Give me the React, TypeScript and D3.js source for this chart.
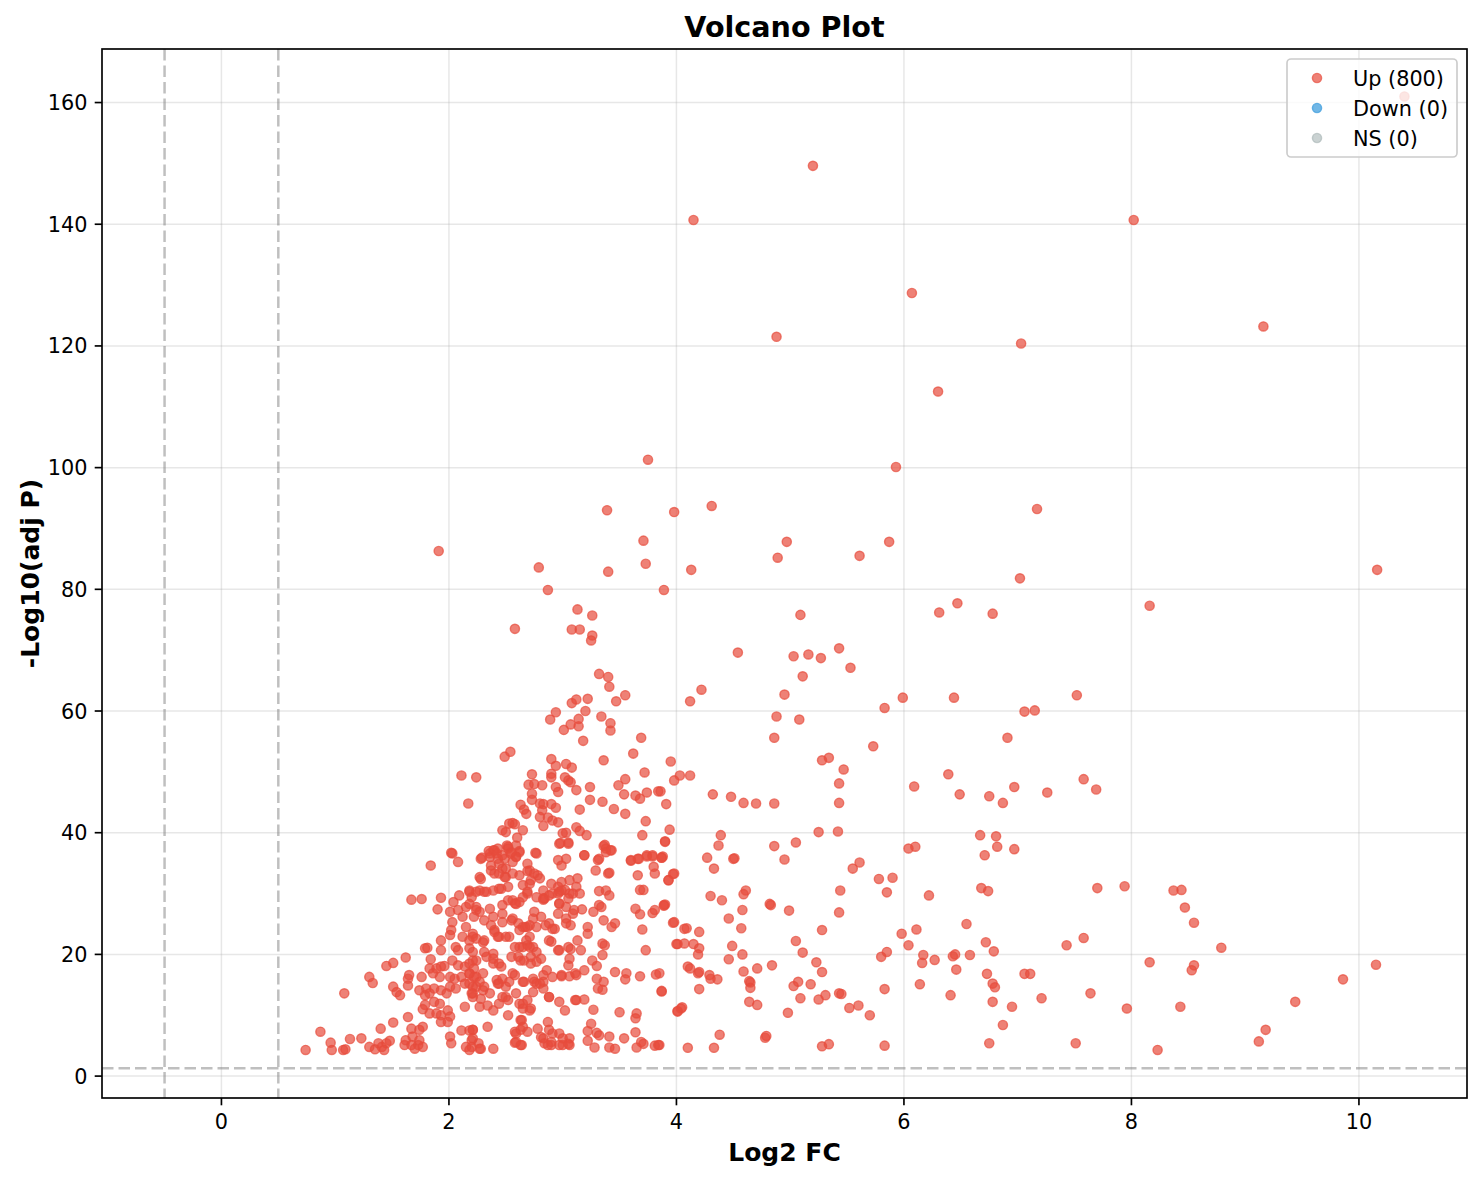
import * as d3 from "d3";

// Log2 FC / -log10(adj p) pairs, grouped by region
const outliers: [number, number][] = [
  [10.4, 161], [5.2, 149.6], [4.15, 140.7], [8.02, 140.7], [6.07, 128.7], [4.88, 121.5], [9.16, 123.2],
  [7.03, 120.4], [6.3, 112.5], [3.75, 101.3], [5.93, 100.1], [3.39, 93.0], [3.98, 92.7], [4.31, 93.7],
  [7.17, 93.2], [1.91, 86.3], [3.71, 88.0], [4.97, 87.8], [5.87, 87.8], [2.79, 83.6], [3.4, 82.9],
  [3.73, 84.2], [4.13, 83.2], [4.89, 85.2], [5.61, 85.5], [2.87, 79.9], [3.89, 79.9], [7.02, 81.8],
  [3.13, 76.7], [3.26, 75.7], [2.58, 73.5], [3.08, 73.4], [3.15, 73.4], [3.26, 72.4], [5.09, 75.8],
  [6.31, 76.2], [6.47, 77.7], [6.78, 76.0], [8.16, 77.3], [10.16, 83.2],
];

const rightTail: [number, number][] = [
  [5.99, 62.2], [6.44, 62.2], [7.52, 62.6], [7.06, 59.9], [7.15, 60.1], [6.91, 55.6], [6.39, 49.6],
  [6.09, 47.6], [6.49, 46.3], [6.75, 46.0], [6.87, 44.9], [6.97, 47.5], [7.26, 46.6], [7.58, 48.8],
  [7.69, 47.1], [6.67, 39.6], [6.81, 39.4], [6.82, 37.7], [6.71, 36.3], [6.97, 37.3], [6.04, 37.4],
  [6.1, 37.7], [6.22, 29.7], [6.68, 30.9], [6.74, 30.4], [7.7, 30.9], [7.94, 31.2], [6.55, 25.0],
  [5.98, 23.4], [6.11, 24.1], [6.04, 21.5], [6.72, 22.0], [6.79, 20.5], [7.43, 21.5], [7.58, 22.7],
  [6.17, 19.9], [6.16, 18.6], [6.27, 19.1], [6.43, 19.7], [6.45, 20.0], [6.58, 19.9], [6.46, 17.5],
  [6.73, 16.8], [6.78, 15.2], [6.8, 14.6], [7.06, 16.8], [7.11, 16.8], [6.14, 15.1], [6.41, 13.3],
  [6.78, 12.2], [6.95, 11.4], [7.21, 12.8], [7.64, 13.6], [7.96, 11.1], [6.87, 8.4], [6.75, 5.4],
  [7.51, 5.4], [8.37, 30.5], [8.44, 30.6], [8.47, 27.7], [8.55, 25.2], [8.79, 21.1], [8.16, 18.7],
  [8.55, 18.2], [8.53, 17.4], [10.15, 18.3], [9.86, 15.9], [9.44, 12.2], [8.43, 11.4], [9.18, 7.6],
  [9.12, 5.7], [8.23, 4.3],
];

const midBand: [number, number][] = [
  [4.54, 69.6], [5.03, 69.0], [5.16, 69.3], [5.27, 68.7], [5.43, 70.3], [5.53, 67.1], [5.11, 65.7],
  [4.95, 62.7], [4.22, 63.5], [4.12, 61.6], [4.88, 59.1], [5.08, 58.6], [5.83, 60.5], [4.86, 55.6],
  [5.73, 54.2], [5.28, 51.9], [5.34, 52.3], [5.47, 50.4], [5.43, 48.1], [5.43, 44.9], [3.95, 51.7],
  [3.98, 48.6], [4.03, 49.4], [4.12, 49.4], [3.86, 46.8], [3.91, 44.7], [4.32, 46.3], [4.48, 45.9],
  [4.59, 44.9], [4.7, 44.8], [4.86, 44.8], [3.94, 40.5], [3.9, 38.6], [3.87, 35.9], [3.97, 33.2],
  [3.93, 32.2], [4.39, 39.6], [4.37, 37.9], [4.27, 35.9], [4.33, 34.1], [4.5, 35.7], [4.51, 35.8],
  [4.86, 37.8], [5.05, 38.4], [4.95, 35.6], [5.25, 40.1], [5.42, 40.2], [5.55, 34.1], [5.61, 35.1],
  [5.78, 32.4], [5.9, 32.6], [5.85, 30.2], [5.44, 30.5], [5.43, 26.9], [5.28, 24.0], [3.89, 28.0],
  [3.9, 28.2], [4.3, 29.6], [4.4, 28.9], [4.61, 30.5], [4.59, 29.9], [4.58, 27.3], [4.46, 25.9],
  [4.57, 24.3], [4.82, 28.3], [4.83, 28.1], [4.99, 27.2], [3.97, 25.2], [4.09, 24.3], [4.2, 23.7],
  [4.01, 21.7], [4.07, 21.8], [4.15, 21.7], [4.2, 21.0], [4.19, 20.0], [4.49, 21.4], [4.46, 19.2],
  [4.58, 20.0], [4.59, 17.2], [4.71, 17.7], [4.84, 18.2], [5.05, 22.2], [5.11, 20.3], [5.23, 18.7],
  [5.28, 17.1], [5.18, 15.1], [5.03, 14.8], [5.07, 15.5], [5.09, 12.8], [5.25, 12.6], [5.31, 13.3],
  [5.43, 13.6], [5.45, 13.5], [5.52, 11.2], [5.6, 11.6], [5.7, 10.0], [5.8, 19.6], [5.85, 20.4],
  [5.83, 14.3], [4.98, 10.4], [4.64, 15.6], [4.65, 15.4], [4.65, 14.5], [4.64, 12.2], [4.71, 11.7],
  [3.85, 16.9], [3.87, 14.0], [4.1, 18.0], [4.12, 17.7], [4.19, 16.9], [4.2, 17.1], [4.29, 16.6],
  [4.3, 16.0], [4.36, 15.9], [4.2, 14.3], [4.01, 10.7], [4.05, 11.3], [4.38, 6.8], [4.1, 4.65],
  [4.33, 4.65], [3.85, 5.1], [4.78, 6.3], [4.79, 6.6], [5.28, 4.9], [5.34, 5.25], [5.83, 5.0],
];

const coreUpper: [number, number][] = [
  [3.25, 71.6], [3.32, 66.1], [3.4, 65.6], [3.41, 64.0], [3.47, 61.6], [3.55, 62.6], [3.08, 61.3],
  [3.12, 61.9], [3.22, 62.0], [3.2, 60.0], [2.94, 59.8], [2.89, 58.6], [3.01, 56.9], [3.07, 57.8],
  [3.14, 58.7], [3.14, 57.5], [3.18, 55.1], [3.34, 59.1], [3.42, 58.0], [3.42, 56.8], [3.69, 55.6],
  [3.62, 53.0], [3.36, 51.9], [2.49, 52.5], [2.54, 53.3], [2.9, 52.1], [2.94, 51.0], [3.03, 51.3],
  [3.08, 50.7], [2.9, 49.7], [2.9, 49.1], [2.73, 49.6], [2.11, 49.4], [2.24, 49.1], [2.7, 47.9],
  [2.75, 48.0], [2.82, 47.8], [3.02, 49.1], [3.05, 48.6], [3.07, 48.3], [2.94, 47.5], [2.96, 46.7],
  [3.12, 47.0], [3.24, 47.5], [3.24, 45.4], [3.35, 45.1], [3.49, 47.8], [3.55, 48.8], [3.54, 46.3],
  [3.64, 46.1], [3.68, 45.6], [3.74, 46.6], [3.72, 49.9], [3.84, 46.8], [2.73, 46.4], [2.73, 45.4],
  [2.63, 44.6], [2.66, 43.8], [2.68, 43.1], [2.8, 44.8], [2.83, 44.7], [2.82, 43.7], [2.9, 44.7],
  [2.94, 44.1], [2.8, 42.6], [2.87, 42.5], [2.91, 42.0], [2.96, 41.7], [2.83, 41.1], [3.15, 43.8],
  [3.45, 43.9], [3.55, 43.1], [3.73, 41.9], [3.7, 39.6], [2.47, 40.4], [2.53, 41.5], [2.56, 41.6],
  [2.58, 41.4], [2.65, 40.4], [2.6, 39.2], [2.5, 40.1], [2.17, 44.8], [3.12, 40.9], [3.15, 40.3],
  [3.21, 39.6], [2.98, 38.3], [3.0, 39.9], [3.03, 40.0], [3.05, 38.4], [3.37, 38.0], [3.38, 37.4],
  [3.42, 37.1], [3.19, 36.3], [3.32, 35.7], [2.76, 36.7], [2.03, 36.6], [2.35, 37.0], [2.39, 37.1],
  [2.43, 37.4], [2.51, 37.9], [2.52, 37.4], [2.62, 37.0], [2.59, 36.1], [2.54, 36.6], [2.29, 35.9],
  [3.9, 38.5], [3.74, 36.3], [3.79, 36.3], [3.88, 36.1], [3.6, 35.5], [3.67, 35.7],
];

const coreLeft: [number, number][] = [
  [0.74, 4.3], [0.87, 7.3], [0.96, 5.5], [0.97, 4.3], [1.07, 4.3], [1.09, 4.4], [1.13, 6.1],
  [1.23, 6.2], [1.08, 13.6], [2.02, 36.7], [2.08, 35.2], [1.84, 34.6], [1.67, 29.0], [1.76, 29.1],
  [1.93, 29.3], [1.9, 27.4], [2.04, 28.6], [2.09, 29.7], [2.18, 30.5], [2.2, 29.4], [2.15, 27.8],
  [2.01, 27.0], [2.08, 27.3], [2.12, 26.2], [2.03, 25.3], [2.02, 24.0], [2.01, 23.2], [2.15, 24.5],
  [2.12, 22.9], [2.21, 23.4], [2.18, 22.3], [1.93, 22.3], [2.06, 21.2], [2.08, 20.7], [1.93, 20.7],
  [1.79, 21.0], [1.81, 21.1], [1.62, 19.5], [1.51, 18.6], [1.45, 18.1], [1.33, 15.3], [1.3, 16.3],
  [1.84, 19.2], [1.83, 17.7], [1.89, 17.7], [1.93, 18.0], [1.86, 16.9], [1.92, 16.3], [1.96, 18.1],
  [2.03, 19.0], [2.08, 18.2], [2.14, 18.0], [2.18, 18.5], [2.24, 19.0], [2.01, 16.3], [2.05, 16.0],
  [2.11, 16.3], [2.18, 16.9], [2.24, 16.3], [2.14, 15.2], [1.64, 16.0], [1.65, 16.6], [1.64, 14.9],
  [1.51, 14.7], [1.54, 13.8], [1.57, 13.3], [1.76, 16.3], [1.74, 14.1], [1.8, 14.4], [1.79, 13.3],
  [1.83, 13.6], [1.87, 14.4], [1.93, 14.1], [1.79, 11.7], [1.87, 12.2], [1.92, 11.9], [1.98, 13.6],
  [2.01, 14.7], [2.06, 14.4], [2.2, 13.6], [2.21, 14.7], [2.14, 11.4], [1.77, 11.0], [1.83, 10.3],
  [1.89, 10.3], [1.93, 10.0], [1.99, 10.8], [2.01, 9.8], [1.93, 8.9], [1.99, 8.9], [1.64, 9.7],
  [1.4, 7.8], [1.51, 8.8], [1.67, 7.8], [1.74, 7.6], [1.77, 8.1], [1.68, 6.5], [1.74, 5.9],
  [1.62, 5.9], [1.61, 5.1], [1.67, 5.1], [1.73, 5.1], [1.77, 4.8], [1.7, 4.5], [1.3, 4.8],
  [1.38, 5.4], [1.45, 5.4], [1.48, 5.8], [1.43, 4.3], [2.01, 6.5], [2.02, 5.4], [2.11, 7.5],
  [2.15, 4.8], [2.2, 5.9], [2.21, 7.6], [2.26, 5.4], [2.18, 4.3], [1.35, 4.4], [1.41, 4.8],
];

const coreMid: [number, number][] = [
  [2.28, 35.7], [2.36, 36.6], [2.4, 37.1], [2.43, 35.7], [2.49, 35.7], [2.52, 37.7], [2.59, 37.9],
  [2.62, 36.8], [2.59, 36.0], [2.77, 36.6], [2.69, 34.9], [2.71, 33.8], [2.97, 38.2], [3.05, 38.2],
  [2.96, 35.5], [3.03, 35.7], [2.99, 34.6], [2.27, 32.7], [2.37, 33.8], [2.4, 33.3], [2.47, 34.1],
  [2.5, 32.7], [2.56, 33.3], [2.65, 31.4], [2.72, 32.2], [2.78, 33.0], [2.83, 30.5], [2.9, 31.6],
  [2.99, 31.9], [3.06, 32.2], [3.09, 30.0], [2.99, 30.5], [2.96, 30.0], [3.05, 29.2], [3.12, 31.1],
  [2.18, 30.3], [2.27, 30.5], [2.33, 30.3], [2.39, 30.5], [2.44, 30.8], [2.52, 28.9], [2.58, 28.4],
  [2.62, 28.6], [2.69, 30.0], [2.77, 29.4], [2.83, 29.2], [2.88, 29.7], [2.97, 28.4], [3.03, 27.8],
  [3.09, 26.7], [2.24, 27.3], [2.27, 27.0], [2.36, 27.5], [2.39, 26.2], [2.47, 26.7], [2.55, 25.6],
  [2.61, 25.1], [2.67, 24.5], [2.74, 25.9], [2.81, 26.2], [2.88, 25.1], [2.93, 24.2], [2.96, 26.7],
  [3.03, 25.9], [3.07, 24.8], [2.21, 22.9], [2.31, 22.3], [2.4, 23.7], [2.44, 22.9], [2.5, 22.9],
  [2.62, 24.0], [2.69, 24.5], [2.71, 22.9], [2.69, 21.5], [2.62, 21.2], [2.74, 21.2], [2.9, 22.1],
  [2.96, 20.7], [3.05, 21.2], [2.21, 20.4], [2.31, 20.4], [2.39, 20.1],
  [2.21, 19.0], [2.22, 17.7], [2.3, 16.9], [2.39, 18.5], [2.46, 18.0], [2.55, 19.6], [2.63, 19.0],
  [2.72, 18.5], [2.81, 19.3], [2.83, 16.6], [2.91, 16.3], [2.99, 16.6], [3.05, 18.2], [3.06, 19.3],
  [3.12, 16.6], [2.18, 15.2], [2.24, 14.7], [2.3, 14.1], [2.42, 15.8], [2.44, 15.2], [2.5, 14.7],
  [2.56, 16.9], [2.65, 15.5], [2.75, 15.5], [2.8, 15.2], [2.74, 13.8], [2.83, 14.4], [2.88, 13.0],
  [2.97, 12.2], [3.02, 10.8], [3.11, 12.5], [2.21, 13.0], [2.27, 11.4], [2.39, 10.8], [2.47, 13.0],
  [2.52, 12.5], [2.62, 11.9], [2.65, 11.1], [2.69, 12.5], [2.71, 10.8], [2.52, 10.0], [2.21, 7.6],
  [2.34, 8.1], [2.2, 4.8], [2.28, 4.5], [2.39, 4.5], [2.58, 7.3], [2.63, 9.2], [2.63, 7.6],
  [2.69, 7.3], [2.78, 7.8], [2.87, 8.9], [2.88, 7.6], [2.91, 7.0], [2.97, 7.0], [2.83, 6.2],
  [2.9, 5.1], [3.0, 5.1], [3.06, 5.1], [3.06, 6.2], [2.59, 5.6], [2.63, 5.1],
];

const coreDense: [number, number][] = [
  [2.36, 36.0], [2.42, 36.6], [2.47, 36.3], [2.55, 36.8], [2.37, 34.6], [2.44, 34.9], [2.5, 34.1],
  [2.56, 35.2], [2.69, 33.7], [2.28, 32.4], [2.44, 33.3], [2.49, 32.7], [2.62, 33.0], [2.75, 33.3],
  [2.8, 32.5], [2.96, 31.1], [3.02, 30.6], [2.24, 30.3], [2.31, 30.3], [2.46, 30.8], [2.52, 31.1],
  [2.71, 31.6], [2.69, 30.3], [2.84, 29.2], [2.91, 30.0], [2.97, 30.3], [3.06, 30.0], [2.18, 28.3],
  [2.24, 27.8], [2.47, 28.1], [2.56, 28.9], [2.59, 28.3], [2.65, 29.4], [2.75, 27.0], [2.83, 29.0],
  [2.97, 28.3], [2.22, 26.2], [2.31, 25.6], [2.37, 24.8], [2.47, 25.3], [2.56, 25.9], [2.65, 24.5],
  [2.71, 24.8], [2.77, 24.5], [2.85, 24.8], [2.91, 24.2], [3.03, 25.1], [2.24, 22.6], [2.3, 22.0],
  [2.4, 24.0], [2.43, 22.9], [2.53, 22.9], [2.58, 21.2], [2.65, 21.2], [2.68, 22.3], [2.71, 21.2],
  [2.77, 20.4], [2.88, 22.3], [2.97, 20.7], [3.07, 20.9], [2.18, 21.0], [2.33, 19.6], [2.39, 19.3],
  [2.44, 18.5], [2.61, 19.6], [2.66, 19.0], [2.72, 19.6], [2.77, 18.8], [2.86, 17.4], [2.99, 16.4],
  [3.06, 16.4], [2.18, 16.8], [2.22, 16.3], [2.27, 15.5], [2.31, 14.7], [2.36, 13.6], [2.43, 15.2],
  [2.47, 16.0], [2.53, 15.5], [2.58, 16.6], [2.66, 15.5], [2.74, 16.0], [2.77, 15.2], [2.83, 15.5],
  [2.21, 13.6], [2.28, 12.7], [2.34, 11.6], [2.44, 11.9], [2.5, 13.0], [2.59, 13.6], [2.65, 11.9],
  [2.72, 11.1], [2.88, 13.0], [2.59, 7.0], [2.64, 9.2], [2.65, 8.1], [2.18, 7.5], [2.21, 6.2],
  [2.27, 4.5], [2.58, 5.5], [2.64, 5.1], [2.81, 6.4], [2.84, 5.4], [2.87, 5.1], [2.9, 5.6],
  [2.97, 5.1], [3.0, 6.2], [3.05, 5.3],
];

const coreRight: [number, number][] = [
  [3.19, 36.3], [3.31, 35.5], [3.29, 33.8], [3.36, 37.8], [3.38, 36.8], [3.43, 37.1], [3.4, 33.3],
  [3.41, 33.4], [3.6, 35.4], [3.66, 35.7], [3.74, 36.1], [3.79, 36.1], [3.87, 35.9], [3.8, 34.4],
  [3.81, 33.3], [3.66, 33.0], [3.93, 32.2], [3.98, 33.3], [3.13, 32.5], [3.15, 30.0], [3.32, 30.4],
  [3.38, 30.5], [3.41, 29.7], [3.68, 30.6], [3.71, 30.6], [3.1, 27.3], [3.17, 27.4], [3.27, 27.0],
  [3.32, 28.1], [3.34, 27.8], [3.36, 25.6], [3.43, 24.5], [3.46, 25.1], [3.22, 24.5], [3.22, 23.4],
  [3.13, 22.3], [3.16, 20.7], [3.35, 21.8], [3.37, 21.5], [3.35, 19.9], [3.64, 27.5], [3.68, 26.6],
  [3.79, 26.8], [3.81, 27.3], [3.89, 28.1], [3.98, 25.3], [3.7, 24.1], [3.73, 20.7], [4.0, 21.7],
  [4.07, 24.2], [3.26, 19.0], [3.3, 18.1], [3.19, 17.4], [3.11, 16.9], [3.46, 17.1], [3.56, 16.9],
  [3.55, 15.9], [3.68, 16.4], [3.82, 16.7], [3.3, 16.0], [3.36, 15.5], [3.31, 14.4], [3.35, 14.2],
  [3.87, 13.9], [3.12, 12.5], [3.19, 12.6], [3.27, 10.9], [3.5, 10.5], [3.65, 10.3], [3.64, 9.5],
  [3.25, 8.6], [3.22, 7.4], [3.3, 7.1], [3.32, 6.7], [3.41, 6.5], [3.22, 5.8], [3.28, 4.7],
  [3.41, 4.7], [3.46, 4.5], [3.54, 6.2], [3.64, 7.2], [3.69, 5.6], [3.65, 4.7], [3.71, 5.3],
  [3.81, 5.0], [3.84, 5.1], [4.01, 10.6], [4.04, 11.1],
];

const upGenes = [...outliers, ...rightTail, ...midBand, ...coreUpper, ...coreLeft, ...coreMid, ...coreDense, ...coreRight];

const xTicks = [0, 2, 4, 6, 8, 10];
const yTicks = [0, 20, 40, 60, 80, 100, 120, 140, 160];
const legendItems = [
  { label: "Up (800)", color: "#e74c3c", alpha: 0.7 },
  { label: "Down (0)", color: "#3498db", alpha: 0.7 },
  { label: "NS (0)", color: "#95a5a6", alpha: 0.5 },
];
const fcCutoff = 0.5;
const pCutoff = -Math.log10(0.05);

const W = 1482;
const H = 1180;
const m = { top: 49, right: 15, bottom: 82, left: 102 };
const FONT = "DejaVu Sans, sans-serif";
const R = 4.6;

export default function App() {
  const x = d3.scaleLinear().domain([-1.05, 10.95]).range([m.left, W - m.right]);
  const y = d3.scaleLinear().domain([-3.6, 168.8]).range([H - m.bottom, m.top]);
  const [x0, x1] = x.range();
  const [y0, y1] = y.range();

  return (
    <svg width={W} height={H} style={{ position: "absolute", left: 0, top: 0, background: "#fff" }} fontFamily={FONT}>
      {/* grid */}
      <g stroke="#b0b0b0" strokeOpacity={0.3} strokeWidth={1.5}>
        {xTicks.map((t) => <line key={"gx" + t} x1={x(t)} x2={x(t)} y1={y1} y2={y0} />)}
        {yTicks.map((t) => <line key={"gy" + t} x1={x0} x2={x1} y1={y(t)} y2={y(t)} />)}
      </g>

      {/* threshold lines */}
      <g stroke="#808080" strokeOpacity={0.5} strokeWidth={2.5} strokeDasharray="11.5,5">
        <line x1={x(-fcCutoff)} x2={x(-fcCutoff)} y1={y1} y2={y0} />
        <line x1={x(fcCutoff)} x2={x(fcCutoff)} y1={y1} y2={y0} />
        <line x1={x0} x2={x1} y1={y(pCutoff)} y2={y(pCutoff)} />
      </g>

      {/* points */}
      <g fill="#e74c3c" fillOpacity={0.7} stroke="#e74c3c" strokeOpacity={0.7} strokeWidth={1.4}>
        {upGenes.map((d, i) => <circle key={i} cx={x(d[0])} cy={y(d[1])} r={R} />)}
      </g>

      {/* spines */}
      <rect x={x0} y={y1} width={x1 - x0} height={y0 - y1} fill="none" stroke="#000" strokeWidth={1.67} />

      {/* x ticks */}
      <g>
        {xTicks.map((t) => (
          <g key={"xt" + t} transform={`translate(${x(t)},${y0})`}>
            <line y2={7.3} stroke="#000" strokeWidth={1.67} />
            <text y={14.6} dy="0.8em" textAnchor="middle" fontSize={20.8} fill="#000">{t}</text>
          </g>
        ))}
      </g>
      {/* y ticks */}
      <g>
        {yTicks.map((t) => (
          <g key={"yt" + t} transform={`translate(${x0},${y(t)})`}>
            <line x2={-7.3} stroke="#000" strokeWidth={1.67} />
            <text x={-14.6} dy="0.36em" textAnchor="end" fontSize={20.8} fill="#000">{t}</text>
          </g>
        ))}
      </g>

      {/* labels */}
      <text x={(x0 + x1) / 2} y={1161} textAnchor="middle" fontSize={25} fontWeight="bold">Log2 FC</text>
      <text transform={`translate(39,${(y0 + y1) / 2}) rotate(-90)`} textAnchor="middle" fontSize={25} fontWeight="bold">-Log10(adj P)</text>
      <text x={(x0 + x1) / 2} y={37} textAnchor="middle" fontSize={28.6} fontWeight="bold">Volcano Plot</text>

      {/* legend */}
      <g transform={`translate(${x1 - 180},${y1 + 10})`}>
        <rect width={170} height={98} rx={4} fill="#fff" fillOpacity={0.8} stroke="#cccccc" strokeWidth={1.67} />
        {legendItems.map((it, i) => (
          <g key={it.label} transform={`translate(0,${19 + i * 30})`}>
            <circle cx={30} r={R} fill={it.color} fillOpacity={it.alpha} stroke={it.color} strokeOpacity={it.alpha} strokeWidth={1.4} />
            <text x={66} dy="0.36em" fontSize={20.8} fill="#000">{it.label}</text>
          </g>
        ))}
      </g>
    </svg>
  );
}
